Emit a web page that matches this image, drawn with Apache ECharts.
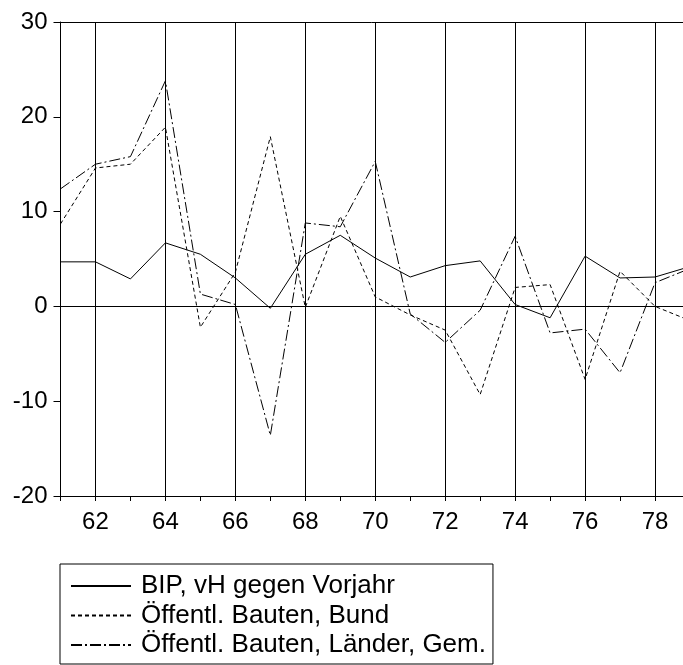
<!DOCTYPE html>
<html>
<head>
<meta charset="utf-8">
<script src="https://cdn.jsdelivr.net/npm/echarts@6/dist/echarts.min.js"></script>
<style>
  html, body { margin: 0; padding: 0; background: #fff; }
  #chart { width: 683px; height: 665px; }
</style>
</head>
<body>
<div id="chart"></div>
<script>
// Jahre (19xx) und Veränderungsraten in vH gegenüber Vorjahr
const years = [61, 62, 63, 64, 65, 66, 67, 68, 69, 70, 71, 72, 73, 74, 75, 76, 77, 78, 79];
const bip = [4.7, 4.7, 2.9, 6.7, 5.5, 3.0, -0.2, 5.5, 7.5, 5.1, 3.1, 4.3, 4.8, 0.2, -1.2, 5.3, 3.0, 3.1, 4.2];
const bund = [8.7, 14.6, 15.0, 18.9, -2.2, 3.6, 17.9, -0.1, 9.5, 1.0, -0.9, -2.5, -9.3, 2.0, 2.3, -7.7, 3.7, 0.0, -1.5];
const laender = [12.4, 15.0, 15.8, 23.8, 1.3, 0.2, -13.6, 8.8, 8.4, 15.3, -0.8, -3.8, -0.4, 7.4, -2.8, -2.4, -7.0, 2.5, 4.0];

const seriesNames = ['BIP, vH gegen Vorjahr', 'Öffentl. Bauten, Bund', 'Öffentl. Bauten, Länder, Gem.'];
const xTickLabels = ['62', '64', '66', '68', '70', '72', '74', '76', '78'];
const gridYears = [62, 64, 66, 68, 70, 72, 74, 76, 78];

const FONT = '"Liberation Sans", Arial, sans-serif';
const toPairs = vals => years.map((y, i) => [y, vals[i]]);

const chart = echarts.init(document.getElementById('chart'), null, { renderer: 'canvas' });

const verticalLines = gridYears.map(y => ({ xAxis: y }));

chart.setOption({
  animation: false,
  backgroundColor: '#fff',
  grid: { left: 60.5, right: 0, top: 22, bottom: 169 },
  xAxis: [
    {
      type: 'value',
      min: 61,
      max: 78.8,
      interval: 1,
      axisLine: { show: true, onZero: false, lineStyle: { color: '#000', width: 1 } },
      axisTick: { show: true, length: 5, lineStyle: { color: '#000' } },
      axisLabel: {
        show: true,
        margin: 14,
        color: '#000',
        fontFamily: FONT,
        fontSize: 24,
        showMaxLabel: false,
        formatter: v => (xTickLabels.indexOf(String(v)) >= 0 ? String(v) : '')
      },
      splitLine: { show: false }
    },
    {
      type: 'value',
      position: 'top',
      min: 61,
      max: 78.8,
      interval: 1,
      axisLine: { show: true, onZero: false, lineStyle: { color: '#000', width: 1 } },
      axisTick: { show: false },
      axisLabel: { show: false },
      splitLine: { show: false }
    }
  ],
  yAxis: {
    type: 'value',
    min: -20,
    max: 30,
    interval: 10,
    axisLine: { show: true, onZero: false, lineStyle: { color: '#000', width: 1 } },
    axisTick: { show: true, length: 7, lineStyle: { color: '#000' } },
    axisLabel: { margin: 13, color: '#000', fontFamily: FONT, fontSize: 24 },
    splitLine: { show: false }
  },
  legend: {
    orient: 'vertical',
    left: 60,
    top: 564,
    padding: [9, 7, 6, 10],
    itemGap: 3.5,
    itemWidth: 60,
    itemHeight: 12,
    borderColor: '#000',
    borderWidth: 1,
    borderRadius: 0,
    itemStyle: { opacity: 0 },
    data: seriesNames,
    textStyle: { color: '#000', fontFamily: FONT, fontSize: 26, lineHeight: 26, padding: [0, 0, 0, 5] }
  },
  series: [
    {
      name: seriesNames[0],
      type: 'line',
      data: toPairs(bip),
      symbol: 'none',
      lineStyle: { color: '#000', width: 1, type: 'solid' },
      itemStyle: { color: '#000' },
      z: 5,
      markLine: {
        silent: true,
        symbol: 'none',
        label: { show: false },
        lineStyle: { color: '#000', width: 1, type: 'solid' },
        data: verticalLines.concat([{ yAxis: 0 }])
      }
    },
    {
      name: seriesNames[1],
      type: 'line',
      data: toPairs(bund),
      symbol: 'none',
      lineStyle: { color: '#000', width: 1, type: [4, 3] },
      itemStyle: { color: '#000' },
      z: 4
    },
    {
      name: seriesNames[2],
      type: 'line',
      data: toPairs(laender),
      symbol: 'none',
      lineStyle: { color: '#000', width: 1, type: [11, 3, 2, 3] },
      itemStyle: { color: '#000' },
      z: 3
    }
  ]
});
</script>
</body>
</html>
